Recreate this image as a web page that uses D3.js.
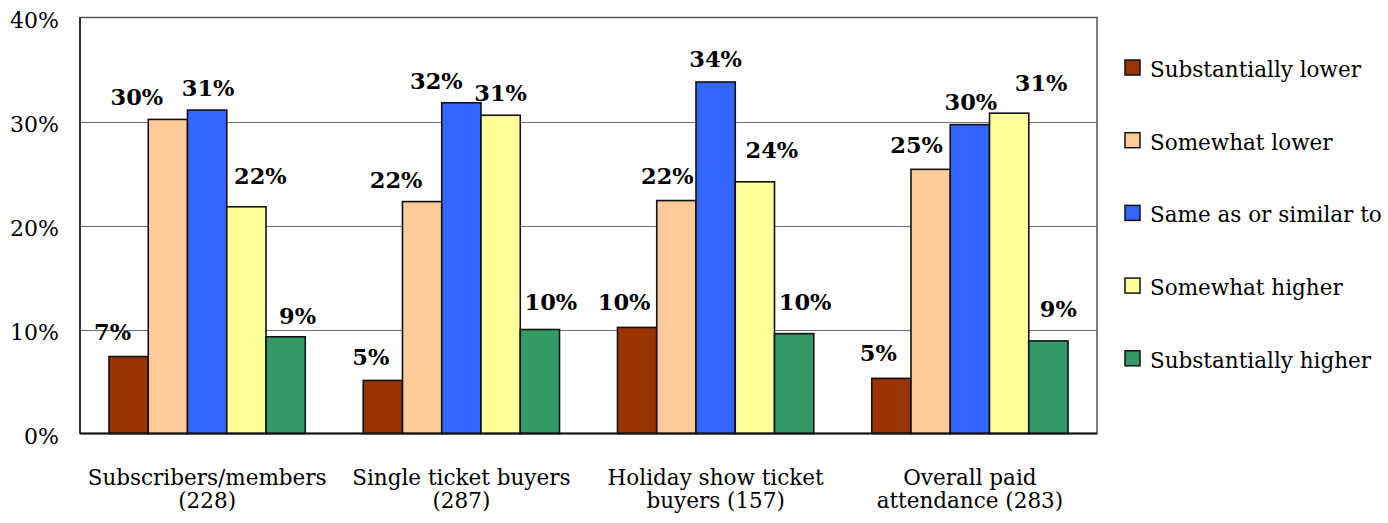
<!DOCTYPE html>
<html><head><meta charset="utf-8">
<script src="https://cdn.jsdelivr.net/npm/d3@7"></script>
<style>body{margin:0;background:#fff} svg{display:block}</style>
</head><body><svg id="chart" width="1388" height="523"></svg>
<script>
// ---- data ----
const categories = ["Subscribers/members\n(228)", "Single ticket buyers\n(287)", "Holiday show ticket\nbuyers (157)", "Overall paid\nattendance (283)"];
const seriesNames = ["Substantially lower", "Somewhat lower", "Same as or similar to", "Somewhat higher", "Substantially higher"];
const substantiallyLower   = [7.4, 5.1, 10.2, 5.3];
const somewhatLower        = [30.2, 22.3, 22.4, 25.4];
const sameOrSimilar        = [31.1, 31.8, 33.8, 29.7];
const somewhatHigher       = [21.8, 30.6, 24.2, 30.8];
const substantiallyHigher  = [9.3, 10.0, 9.6, 8.9];
const yTickValues = [0, 10, 20, 30, 40];
const yTickLabels = ["0%", "10%", "20%", "30%", "40%"];

// ---- layout / style (not data) ----
const colors = ["#993300", "#FFCC99", "#3366FF", "#FFFF99", "#339966"];
// manual label nudges [dx, dy] per category, per series (as in the original chart)
const labelNudge = [
  [[-16,-3],[-31,0],[1,0],[14,-9],[12,1]],
  [[-12,-1],[-26,0],[-25,0],[0,0],[11,-6]],
  [[-13,-3],[-9,-3],[0,-1],[17,-10],[11,-10]],
  [[-13,-3],[-14,-2],[1,-1],[32,-8],[10,-10]]
];
const seriesValues = [substantiallyLower, somewhatLower, sameOrSimilar, somewhatHigher, substantiallyHigher];

const svg = d3.select("#chart");
const M = {left: 80, right: 1097, top: 17.5, bottom: 433.5};
const fontFam = "'DejaVu Serif', serif";

const x0 = d3.scaleBand().domain(d3.range(categories.length)).range([M.left, M.right])
  .paddingInner(0.228).paddingOuter(0.114);
const x1 = d3.scaleBand().domain(d3.range(seriesNames.length)).range([0, x0.bandwidth()]);
const y = d3.scaleLinear().domain([0, 40]).range([M.bottom, M.top]);

// gridlines
svg.append("g").selectAll("line").data(yTickValues.filter(v => v > 0 && v < 40)).join("line")
  .attr("x1", M.left).attr("x2", M.right)
  .attr("y1", d => Math.round(y(d)) + 0.5).attr("y2", d => Math.round(y(d)) + 0.5)
  .attr("stroke", "#707070").attr("stroke-width", 1);

// frame
svg.append("rect").attr("x", M.left).attr("y", M.top).attr("width", M.right - M.left).attr("height", M.bottom - M.top)
  .attr("fill", "none").attr("stroke", "#555").attr("stroke-width", 1.5);
svg.append("line").attr("x1", M.left).attr("x2", M.left).attr("y1", M.top).attr("y2", M.bottom)
  .attr("stroke", "#333").attr("stroke-width", 2);

// y axis labels
const yAxis = d3.axisLeft(y).tickValues(yTickValues).tickFormat((d, i) => yTickLabels[i]).tickSize(0).tickPadding(21);
const ya = svg.append("g").attr("transform", `translate(${M.left},0)`).call(yAxis);
ya.select(".domain").remove();
ya.selectAll("text").attr("font-family", fontFam).attr("font-size", 22).attr("fill", "#000").attr("dy", "0.47em");

// bars
const groups = svg.append("g").selectAll("g").data(categories).join("g")
  .attr("transform", (d, i) => `translate(${x0(i)},0)`);
groups.selectAll("rect").data((d, ci) => seriesValues.map((vals, si) => ({ci, si, v: vals[ci]}))).join("rect")
  .attr("x", d => x1(d.si)).attr("width", x1.bandwidth())
  .attr("y", d => y(d.v)).attr("height", d => y(0) - y(d.v))
  .attr("fill", d => colors[d.si]).attr("stroke", "#111").attr("stroke-width", 1.6);

// value labels
groups.selectAll("text.val").data((d, ci) => seriesValues.map((vals, si) => ({ci, si, v: vals[ci]}))).join("text")
  .attr("class", "val")
  .attr("x", d => x1(d.si) + x1.bandwidth() / 2 + labelNudge[d.ci][d.si][0])
  .attr("y", d => y(d.v) - 14 + labelNudge[d.ci][d.si][1])
  .attr("text-anchor", "middle").attr("font-family", fontFam).attr("font-weight", "bold").attr("font-size", 22.5)
  .text(d => Math.round(d.v) + "%");

// x axis baseline
svg.append("line").attr("x1", M.left).attr("x2", M.right).attr("y1", M.bottom).attr("y2", M.bottom)
  .attr("stroke", "#111").attr("stroke-width", 2);

// category labels
const xAxis = d3.axisBottom(x0).tickSize(0).tickFormat(() => "");
const xa = svg.append("g").attr("transform", `translate(0,${M.bottom})`).call(xAxis);
xa.select(".domain").remove();
xa.selectAll(".tick").each(function(d) {
  const lines = categories[d].split("\n");
  const t = d3.select(this).append("text").attr("text-anchor", "middle").attr("font-family", fontFam)
    .attr("font-size", 21.5).attr("fill", "#000");
  lines.forEach((ln, k) => t.append("tspan").attr("x", 0).attr("y", 51.5 + k * 23.3).text(ln));
});

// legend
const leg = svg.append("g").selectAll("g").data(seriesNames).join("g")
  .attr("transform", (d, i) => `translate(1125,${67.5 + i * 72.7})`);
leg.append("rect").attr("x", 0).attr("y", -7.5).attr("width", 15).attr("height", 15)
  .attr("fill", (d, i) => colors[i]).attr("stroke", "#111").attr("stroke-width", 1.5);
leg.append("text").attr("x", 25).attr("y", 9.5).attr("font-family", fontFam).attr("font-size", 21.5)
  .text(d => d);
</script></body></html>
